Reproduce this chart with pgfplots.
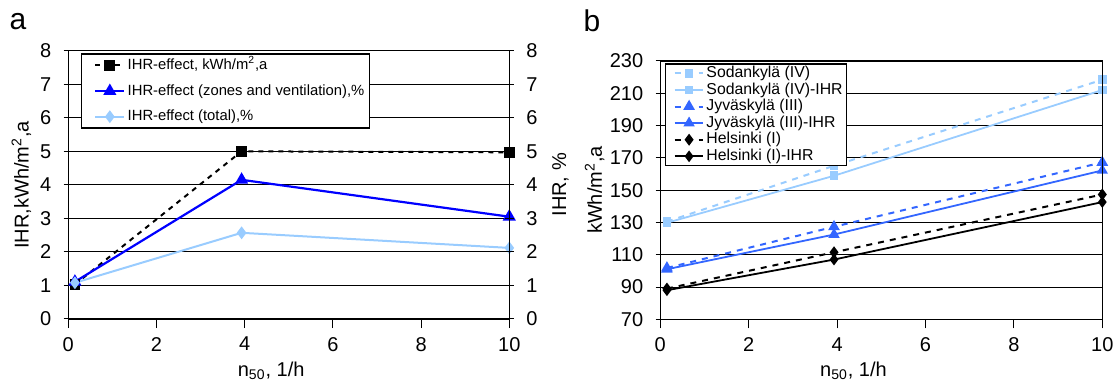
\documentclass[border=0pt]{standalone}
\usepackage{fontspec}
\setmainfont{Liberation Sans}
\usepackage{pgfplots}
\pgfplotsset{compat=1.18}
\definecolor{lblue}{RGB}{153,204,255}
\definecolor{dblue}{RGB}{0,0,255}
\definecolor{mblue}{RGB}{51,102,255}
\begin{document}
\begin{tikzpicture}
\path[use as bounding box] (0,0) rectangle (556.5pt,192pt);
\pgfplotsset{
  base/.style={
    scale only axis,
    anchor=south west,
    xmin=0, xmax=10,
    xtick={0,2,...,10},
    tick label style={font=\fontsize{10}{12}\selectfont},
    /pgf/number format/assume math mode=true,
    label style={font=\fontsize{10}{12}\selectfont},
    tick align=center,
    major tick length=4.6pt,
    x tick style={yshift=-2.3pt},
    xtick pos=left,
    tick style={black, line width=0.5pt},
    axis line style={black, line width=0.6pt},
    grid style={black, line width=0.5pt},
    xticklabel style={yshift=-3.2pt},
    legend cell align=left,
  },
  legimg/.style={legend image code/.code={%
    \path (0pt,0pt);
    \draw[mark repeat=2,mark phase=2,##1] plot coordinates {(#1,0pt) (#1+7.2pt,0pt) (#1+14.4pt,0pt)};}},
}
% ---------- panel a ----------
\begin{axis}[base,
  at={(34.15pt,32.5pt)}, width=220.5pt, height=134.15pt,
  ymin=0, ymax=8, ytick={0,1,...,8}, ytick pos=left,
  ymajorgrids,
  yticklabel style={xshift=-2.7pt},
  xlabel={n\textsubscript{50}, 1/h},
  ylabel={IHR,kWh/m\textsuperscript{2},a},
  xlabel style={at={(axis description cs:0.46,-0.216)}, anchor=base},
  ylabel style={at={(axis description cs:-0.090,0.5)}, anchor=base},
  legimg=5pt,
  legend style={at={(axis description cs:0.028,0.99)}, anchor=north west,
    draw=black, line width=0.7pt, fill=white,
    font=\fontsize{7.4}{8.5}\selectfont,
    inner xsep=1.5pt, inner ysep=1pt,
    nodes={text height=5.7pt, text depth=1.7pt, inner ysep=1pt, inner xsep=1.2pt},
    row sep=3.4pt},
]
\addplot[black, line width=1pt, dash pattern=on 2.5pt off 2.5pt, mark=square*, mark size=2.2pt, mark options={solid}]
  coordinates {(0.15,1.03) (3.93,5.0) (10,4.97)};
\addlegendentry{IHR-effect, kWh/m\textsuperscript{2},a}
\addplot[dblue, line width=1.1pt, mark=triangle*, mark size=2.7pt]
  coordinates {(0.15,1.11) (3.93,4.15) (10,3.05)};
\addlegendentry{IHR-effect (zones and ventilation),\%}
\addplot[lblue, line width=1pt, mark=diamond*, mark size=2.4pt]
  coordinates {(0.15,1.08) (3.93,2.57) (10,2.12)};
\addlegendentry{IHR-effect (total),\%}
\end{axis}
\begin{axis}[base,
  at={(34.15pt,32.5pt)}, width=220.5pt, height=134.15pt,
  ymin=0, ymax=8, ytick={0,1,...,8},
  axis x line=none, axis y line*=right,
  yticklabel style={xshift=2.7pt},
  ylabel={IHR, \%},
  ylabel style={at={(axis description cs:1.1286,0.5)}, anchor=base},
]
\end{axis}
% ---------- panel b ----------
\begin{axis}[base,
  at={(330.15pt,32.35pt)}, width=221pt, height=129.15pt,
  ymin=70, ymax=230, ytick={70,90,...,230}, ytick pos=left,
  ymajorgrids,
  yticklabel style={xshift=-2.7pt},
  xlabel={n\textsubscript{50}, 1/h},
  ylabel={kWh/m\textsuperscript{2},a},
  xlabel style={at={(axis description cs:0.437,-0.223)}, anchor=base},
  ylabel style={at={(axis description cs:-0.132,0.5)}, anchor=base},
  legimg=3pt,
  legend style={at={(axis description cs:0.0106,0.991)}, anchor=north west,
    draw=black, line width=0.7pt, fill=white,
    font=\fontsize{7.9}{8.5}\selectfont,
    inner xsep=1pt, inner ysep=0.5pt,
    nodes={text height=5.8pt, text depth=1.7pt, inner ysep=0.4pt, inner xsep=1pt},
    row sep=0pt},
]
\addplot[lblue, line width=1pt, dash pattern=on 3pt off 3pt, mark=square*, mark size=1.7pt, mark options={solid}]
  coordinates {(0.15,130.5) (3.93,165.1) (10,218.4)};
\addlegendentry{Sodankylä (IV)}
\addplot[lblue, line width=0.9pt, mark=square*, mark size=1.7pt]
  coordinates {(0.15,129.8) (3.93,158.9) (10,212.0)};
\addlegendentry{Sodankylä (IV)-IHR}
\addplot[mblue, line width=1pt, dash pattern=on 3pt off 3pt, mark=triangle*, mark size=2.4pt, mark options={solid}]
  coordinates {(0.15,101.8) (3.93,127.3) (10,167.2)};
\addlegendentry{Jyväskylä (III)}
\addplot[mblue, line width=0.9pt, mark=triangle*, mark size=2.4pt]
  coordinates {(0.15,101.0) (3.93,122.5) (10,162.2)};
\addlegendentry{Jyväskylä (III)-IHR}
\addplot[black, line width=1pt, dash pattern=on 3pt off 3pt, mark=diamond*, mark size=2.2pt, mark options={solid}]
  coordinates {(0.15,89.0) (3.93,111.5) (10,147.3)};
\addlegendentry{Helsinki (I)}
\addplot[black, line width=0.9pt, mark=diamond*, mark size=2.2pt]
  coordinates {(0.15,88.0) (3.93,107.0) (10,142.6)};
\addlegendentry{Helsinki (I)-IHR}
\end{axis}
\draw (330.15pt,161.5pt) -- (551.15pt,161.5pt) -- (551.15pt,32.35pt);
\node[anchor=base west, inner sep=0pt, font=\fontsize{15}{18}\selectfont] at (4.65pt,177.35pt) {a};
\node[anchor=base west, inner sep=0pt, font=\fontsize{15}{18}\selectfont] at (291.65pt,176.15pt) {b};
\end{tikzpicture}
\end{document}
